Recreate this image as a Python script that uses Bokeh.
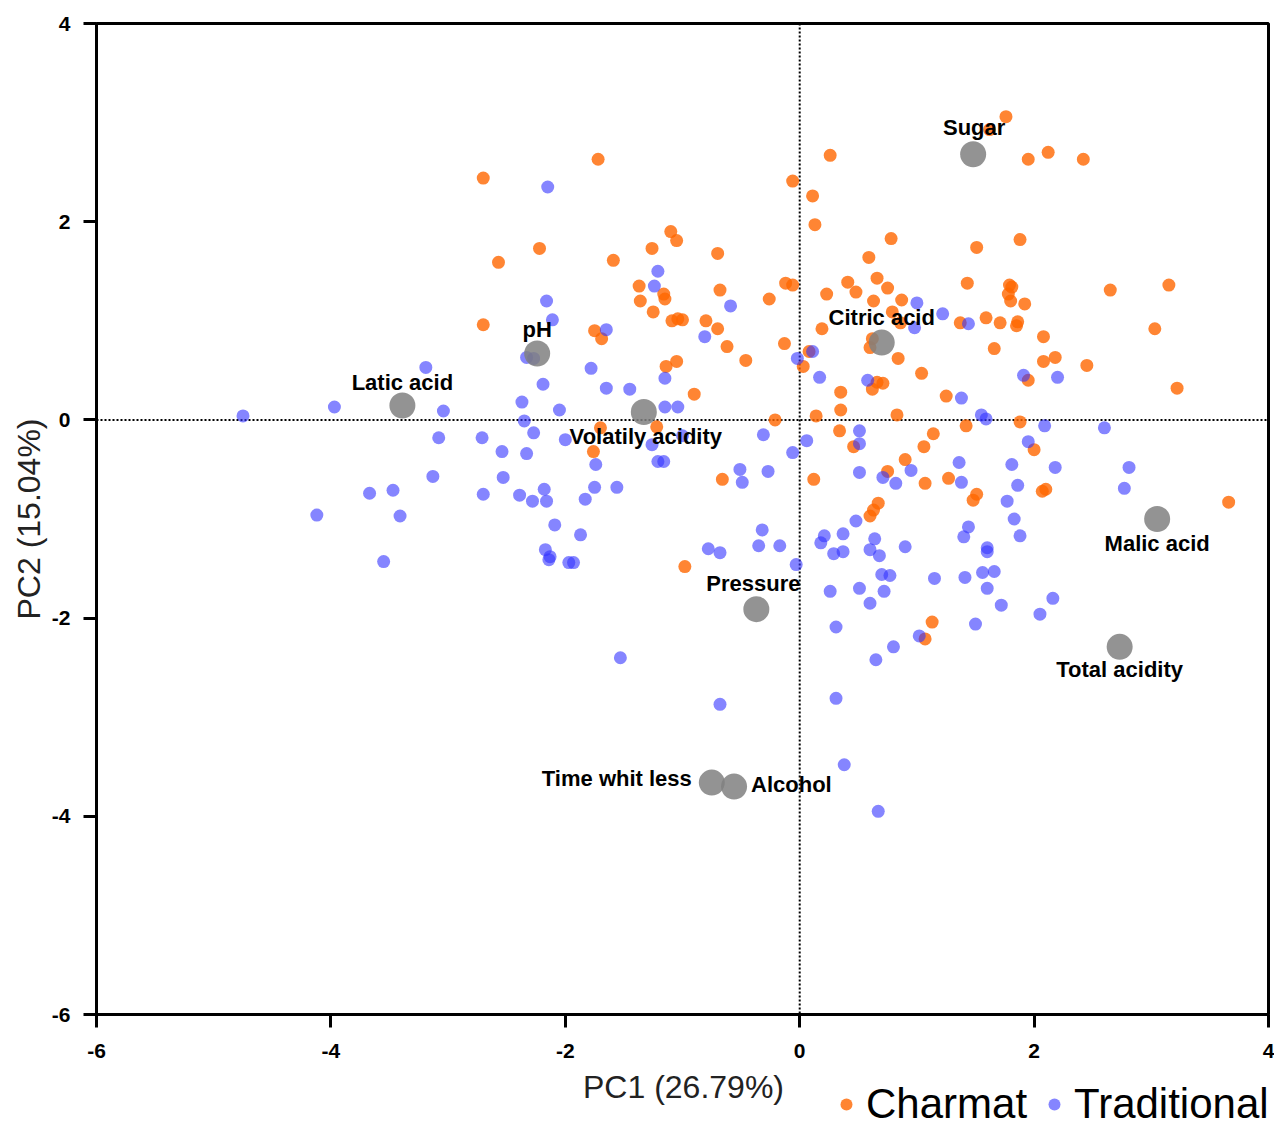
from bokeh.plotting import figure
from bokeh.layouts import column
from bokeh.models import Span, Legend, LegendItem, FixedTicker, ColumnDataSource, Label
from bokeh.core.properties import value
from bokeh.embed import file_html
from bokeh.resources import INLINE

# ---- data (PC1, PC2 scores) ----
charmat_pc1 = [-2.70, -2.57, -2.70, -1.72, -0.06, -2.22, -1.59, -1.10, -1.05, -1.26, -0.70, -1.37,
               -1.16, -1.15, -1.36, -0.68, -0.12, -0.06, -0.26, -1.25, -1.09, -1.04, -1.00, -0.80,
               -0.70, -0.62, -0.46, -0.13, 0.03, -1.75, -1.69, -1.14, -1.05, -0.90, -0.21, -1.70,
               -1.22, -1.76, -0.66, -0.98, 1.76, 1.62, 1.95, 2.12, 2.42, 0.26, 0.11, 0.13, 0.78,
               1.51, 1.88, 0.59, 0.66, 0.41, 0.48, 0.75, 0.23, 0.63, 0.87, 1.43, 1.79, 1.81, 1.78,
               1.80, 1.92, 1.59, 1.71, 1.86, 1.85, 1.37, 2.08, 0.19, 0.79, 0.86, 0.62, 0.60, 0.08,
               0.84, 1.04, 0.66, 0.71, 0.62, 0.35, 1.66, 2.08, 2.18, 2.45, 1.95, 1.25, 2.65, 3.15,
               3.03, 3.22, 0.14, 0.35, 0.83, 1.88, 0.34, 0.46, 1.14, 1.42, 1.06, 0.90, 2.00, 0.12,
               0.75, 1.07, 1.27, 1.51, 1.48, 2.07, 2.10, 0.67, 0.63, 0.60, 1.13, 1.07, 3.66]
charmat_pc2 = [2.44, 1.59, 0.96, 2.63, 2.41, 1.73, 1.61, 1.90, 1.81, 1.73, 1.68, 1.35,
               1.27, 1.22, 1.20, 1.31, 1.38, 1.36, 1.22, 1.09, 1.00, 1.02, 1.01, 1.00,
               0.92, 0.74, 0.60, 0.77, 0.54, 0.90, 0.82, 0.54, 0.59, 0.26, 0.00, -0.08,
               -0.07, -0.32, -0.60, -1.48, 3.06, 2.93, 2.63, 2.70, 2.63, 2.67, 2.26, 1.97, 1.83,
               1.74, 1.82, 1.64, 1.43, 1.39, 1.29, 1.33, 1.27, 1.20, 1.21, 1.38, 1.36, 1.34, 1.27,
               1.20, 1.17, 1.03, 0.98, 0.99, 0.95, 0.98, 0.84, 0.92, 1.09, 0.98, 0.82, 0.73, 0.69,
               0.62, 0.47, 0.38, 0.37, 0.31, 0.28, 0.72, 0.59, 0.63, 0.55, 0.40, 0.24, 1.31, 1.36,
               0.92, 0.32, 0.04, 0.10, 0.05, -0.02, -0.11, -0.27, -0.14, -0.06, -0.27, -0.40, -0.30, -0.60,
               -0.52, -0.64, -0.59, -0.75, -0.81, -0.72, -0.70, -0.84, -0.91, -0.97, -2.04, -2.21, -0.83]

traditional_pc1 = [-3.19, -3.97, -4.75, -3.04, -3.08, -2.71, -2.54, -3.13, -2.53, -3.67, -3.47, -2.70,
                   -4.12, -3.41, -3.55, -2.15, -1.21, -1.24, -0.59, -2.16, -2.11, -0.81, -0.02, -1.65,
                   -2.33, -2.27, -1.78, -1.15, -2.19, -1.65, -1.45, -2.37, -2.05, -1.15, -1.04, -2.35,
                   -2.27, -0.31, -2.00, -1.26, -1.00, -0.06, -2.33, -1.74, -1.21, -1.16, -0.51, -0.49,
                   -0.27, -2.39, -2.28, -2.18, -2.16, -1.75, -1.56, -1.83, -2.09, -1.87, -2.17, -2.13,
                   -2.14, -1.97, -1.93, -0.78, -0.68, -0.32, -0.35, -0.17, -0.03, -1.53, -0.68, 0.65,
                   0.80, 0.31, 0.38, 0.67, 1.00, 1.22, 1.44, 0.98, 0.11, 0.17, 0.58, 1.91, 2.20, 1.38,
                   1.55, 1.59, 2.09, 0.51, 0.06, 0.51, 0.95, 1.36, 1.95, 1.81, 2.18, 0.51, 0.71, 0.82,
                   1.38, 1.86, 1.77, 1.83, 1.88, 0.48, 0.37, 0.21, 0.18, 0.29, 0.37, 0.64, 0.60, 0.68,
                   0.90, 1.44, 1.40, 1.60, 1.60, 0.70, 0.77, 1.15, 1.41, 1.56, 1.66, 0.26, 0.51, 0.72,
                   0.60, 1.60, 1.72, 2.16, 2.05, 0.31, 1.02, 1.50, 2.60, 2.81, 2.77]
traditional_pc2 = [0.53, 0.13, 0.04, 0.09, -0.18, -0.18, -0.32, -0.57, -0.58, -0.74, -0.71, -0.75,
                   -0.96, -0.97, -1.43, 2.35, 1.50, 1.35, 1.15, 1.20, 1.01, 0.84, 0.62, 0.91,
                   0.63, 0.62, 0.52, 0.42, 0.36, 0.32, 0.31, 0.18, 0.10, 0.13, 0.13, -0.01,
                   -0.13, -0.15, -0.20, -0.25, -0.16, -0.33, -0.34, -0.45, -0.42, -0.42, -0.50, -0.63,
                   -0.52, -0.76, -0.82, -0.70, -0.82, -0.68, -0.68, -0.80, -1.06, -1.16, -1.31, -1.38,
                   -1.41, -1.44, -1.44, -1.30, -1.34, -1.11, -1.27, -1.27, -1.46, -2.40, -2.87, -2.42,
                   -2.29, -2.81, -3.48, -3.95, 1.18, 1.07, 0.97, 0.93, 0.69, 0.43, 0.40, 0.45, 0.43, 0.22,
                   0.05, 0.01, -0.06, -0.11, -0.21, -0.24, -0.51, -0.43, -0.22, -0.45, -0.48, -0.53, -0.58, -0.64,
                   -0.63, -0.66, -0.82, -1.00, -1.17, -1.02, -1.15, -1.17, -1.24, -1.35, -1.33, -1.20, -1.31, -1.37,
                   -1.28, -1.08, -1.18, -1.29, -1.33, -1.56, -1.57, -1.60, -1.59, -1.54, -1.53, -1.73, -1.70, -1.73,
                   -1.85, -1.70, -1.87, -1.80, -1.96, -2.09, -2.18, -2.06, -0.08, -0.48, -0.69]

variable_names = ["Sugar", "Citric acid", "pH", "Latic acid", "Volatily acidity", "Malic acid",
                  "Total acidity", "Pressure", "Time whit less", "Alcohol"]
variable_pc1 = [1.48, 0.70, -2.24, -3.39, -1.33, 3.05, 2.73, -0.37, -0.75, -0.56]
variable_pc2 = [2.68, 0.78, 0.67, 0.145, 0.08, -1.00, -2.29, -1.91, -3.66, -3.70]

ticks = [-6, -4, -2, 0, 2, 4]
tick_labels = {t: str(t) for t in ticks}
x_label = "PC1 (26.79%)"
y_label = "PC2 (15.04%)"
group_names = ["Charmat", "Traditional"]

# ---- label placement (screen px offsets, style only) ----
label_place = {
    "Sugar": (1, -27, "center"),
    "Citric acid": (0, -25, "center"),
    "pH": (0, -24, "center"),
    "Latic acid": (0, -23, "center"),
    "Volatily acidity": (2, 25, "center"),
    "Malic acid": (0, 24, "center"),
    "Total acidity": (0, 23, "center"),
    "Pressure": (-3, -26, "center"),
    "Time whit less": (-20, -4, "right"),
    "Alcohol": (17, -2, "left"),
}

FONT = "Liberation Sans"
W = 1274
H_MAIN = 1068
H_FOOT = 60
ORANGE = "#FF6600"
BLUE = "#3333FF"

# ---------------- main plot ----------------
p = figure(width=W, height=H_MAIN, x_range=(-6, 4), y_range=(-6, 4),
           output_backend="svg", toolbar_location=None,
           min_border_left=96, min_border_right=6, min_border_top=23, min_border_bottom=H_MAIN - 1014)
p.background_fill_color = "white"
p.border_fill_color = "white"
p.grid.visible = False
p.outline_line_color = "black"
p.outline_line_width = 3

for ax in (p.xaxis[0], p.yaxis[0]):
    ax.ticker = FixedTicker(ticks=ticks)
    ax.major_label_overrides = tick_labels
    ax.axis_line_width = 3
    ax.major_tick_line_width = 3
    ax.major_tick_out = 13
    ax.major_tick_in = 0
    ax.minor_tick_line_color = None
    ax.major_label_text_font = FONT
    ax.major_label_text_font_style = "bold"
    ax.major_label_text_font_size = "21px"
    ax.major_label_text_color = "black"
    ax.axis_label_text_font = FONT
    ax.axis_label_text_font_style = "normal"
    ax.axis_label_text_font_size = "32px"
    ax.axis_label_text_color = "#222222"

p.yaxis.axis_label = y_label
p.xaxis.major_label_standoff = 16
p.yaxis.major_label_standoff = 13
p.yaxis.axis_label_standoff = 2

vline = Span(location=0, dimension="height", line_color="black", line_width=2, line_dash="2 2", level="underlay")
hline = Span(location=0, dimension="width", line_color="black", line_width=2, line_dash="2 2", level="underlay")
p.add_layout(vline)
p.add_layout(hline)

p.scatter(charmat_pc1, charmat_pc2, size=13, fill_color=ORANGE, fill_alpha=0.8, line_color=None)
p.scatter(traditional_pc1, traditional_pc2, size=13, fill_color=BLUE, fill_alpha=0.6, line_color=None)

p.scatter(variable_pc1, variable_pc2, size=26, fill_color="#808080", fill_alpha=0.85, line_color=None)

for align in ("center", "left", "right"):
    names = [n for n in variable_names if label_place[n][2] == align]
    src = ColumnDataSource(dict(
        x=[variable_pc1[variable_names.index(n)] for n in names],
        y=[variable_pc2[variable_names.index(n)] for n in names],
        t=names,
        xo=[label_place[n][0] for n in names],
        yo=[label_place[n][1] for n in names],
    ))
    p.text(x="x", y="y", text="t", source=src, x_offset="xo", y_offset="yo",
           text_align=align, text_baseline="middle", text_font=value(FONT),
           text_font_style="bold", text_font_size="22px", text_color="black")

# ---------------- footer: x-axis title + legend ----------------
# Frame of the footer is aligned with the main frame (left edge at 96 px).
f = figure(width=W, height=H_FOOT, x_range=(100, 101), y_range=(100, 101),
           output_backend="svg", toolbar_location=None,
           x_axis_type=None, y_axis_type=None, min_border=0)
f.outline_line_color = None
f.background_fill_color = "white"
f.border_fill_color = "white"
f.grid.visible = False

f.add_layout(Label(x=587, y=42, x_units="screen", y_units="screen", text=x_label,
                   text_align="center", text_baseline="middle", text_font=FONT,
                   text_font_size="32px", text_color="#222222"))

# same series drawn in the footer (outside its visible range) only to feed the legend
lc = f.scatter(charmat_pc1, charmat_pc2, size=13, fill_color=ORANGE, fill_alpha=0.8, line_color=None)
lt = f.scatter(traditional_pc1, traditional_pc2, size=13, fill_color=BLUE, fill_alpha=0.6, line_color=None)

legend = Legend(items=[LegendItem(label=group_names[0], renderers=[lc]),
                       LegendItem(label=group_names[1], renderers=[lt])],
                orientation="horizontal", location=(735, 0))
legend.glyph_width = 30
legend.glyph_height = 30
legend.label_standoff = 5
legend.spacing = 12
legend.padding = 0
legend.margin = 0
legend.border_line_color = None
legend.background_fill_alpha = 0
legend.label_text_font = FONT
legend.label_text_font_size = "42px"
legend.label_text_color = "black"
f.add_layout(legend, "center")

layout = column(p, f, spacing=0)
open("out.html", "w").write(file_html(layout, INLINE))
